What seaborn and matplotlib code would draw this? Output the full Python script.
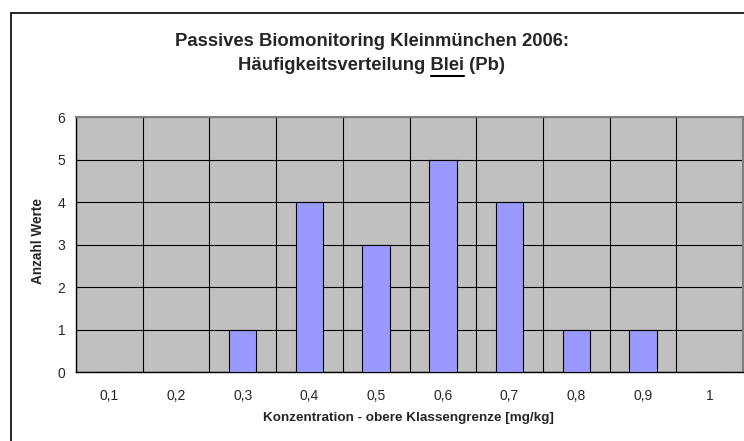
import matplotlib
matplotlib.use("Agg")
import matplotlib.pyplot as plt
import seaborn as sns
from matplotlib.patches import Rectangle
from matplotlib.lines import Line2D

# class upper limits [mg/kg] and counts
klassen = ["0,1", "0,2", "0,3", "0,4", "0,5", "0,6", "0,7", "0,8", "0,9", "1"]
anzahl = [0, 0, 1, 4, 3, 5, 4, 1, 1, 0]
y_ticks = [0, 1, 2, 3, 4, 5, 6]

sns.set_style("white")
plt.rcParams["font.family"] = ["Liberation Sans", "DejaVu Sans"]

W, H = 744, 441
fig = plt.figure(figsize=(W / 100, H / 100), dpi=100)

# outer chart frame (runs off the right/bottom edge like in the original)
fig.patches.append(Rectangle((11 / W, -0.1), 1.2, 1.1 - 13 / H, transform=fig.transFigure,
                             fill=False, edgecolor="black", linewidth=1.2, zorder=0))

ax = fig.add_axes([76 / W, 1 - 372 / H, (743 - 76) / W, (372 - 117) / H])
ax.set_facecolor("#c0c0c0")

sns.barplot(x=klassen, y=anzahl, color="#9999ff", saturation=1, width=0.41,
            edgecolor="black", linewidth=0.8, ax=ax, zorder=3)

ax.set_xlim(-0.5, len(klassen) - 0.5)
ax.set_ylim(0, 6)
ax.set_yticks(y_ticks)
ax.set_yticklabels([str(v) for v in y_ticks])

# tick marks on class boundaries, labels in the middle
ax.set_xticks([i - 0.5 for i in range(len(klassen) + 1)], minor=True)
ax.tick_params(axis="x", which="major", length=0, labelsize=10, pad=12)
ax.tick_params(axis="x", which="minor", length=3.6, width=0.8, color="black", direction="out")
ax.tick_params(axis="y", length=3.6, width=0.8, color="black", direction="out", labelsize=10, pad=4)
ax.yaxis.grid(True, color="black", linewidth=0.8)
ax.xaxis.grid(True, which="minor", color="black", linewidth=0.8)
ax.set_axisbelow(True)

for s in ["left", "bottom"]:
    ax.spines[s].set_color("black")
    ax.spines[s].set_linewidth(1.0)
for s in ["top", "right"]:
    ax.spines[s].set_color("#808080")
    ax.spines[s].set_linewidth(1.5)

ax.set_xlabel("")
ax.set_ylabel("")
fig.text(37.5 / W, 1 - 241 / H, "Anzahl Werte", rotation=90, ha="center", va="center",
         fontsize=9.8, fontweight="bold")
fig.text(408 / W, 1 - 418 / H, "Konzentration - obere Klassengrenze [mg/kg]",
         ha="center", va="center", fontsize=9.7, fontweight="bold")

# title, second line with underlined "Blei"
tsize = 13.3
cx = 372 / W
fig.text(cx, 1 - 42 / H, "Passives Biomonitoring Kleinmünchen 2006:", ha="center",
         va="center", fontsize=tsize, fontweight="bold")

renderer = fig.canvas.get_renderer()
parts = ["Häufigkeitsverteilung ", "Blei", " (Pb)"]
widths = []
for p in parts:
    t = fig.text(0, 0, p, fontsize=tsize, fontweight="bold")
    widths.append(t.get_window_extent(renderer).width)
    t.remove()
full = fig.text(cx, 1 - 66 / H, "".join(parts), ha="center", va="center",
                fontsize=tsize, fontweight="bold")
fw = full.get_window_extent(renderer).width
x0 = cx * W - fw / 2 + widths[0]
x1 = x0 + widths[1]
yl = H - 75.5
fig.add_artist(Line2D([x0 / W, x1 / W], [yl / H, yl / H], transform=fig.transFigure,
                      color="black", linewidth=1.5))

fig.savefig("out.png", dpi=100)
